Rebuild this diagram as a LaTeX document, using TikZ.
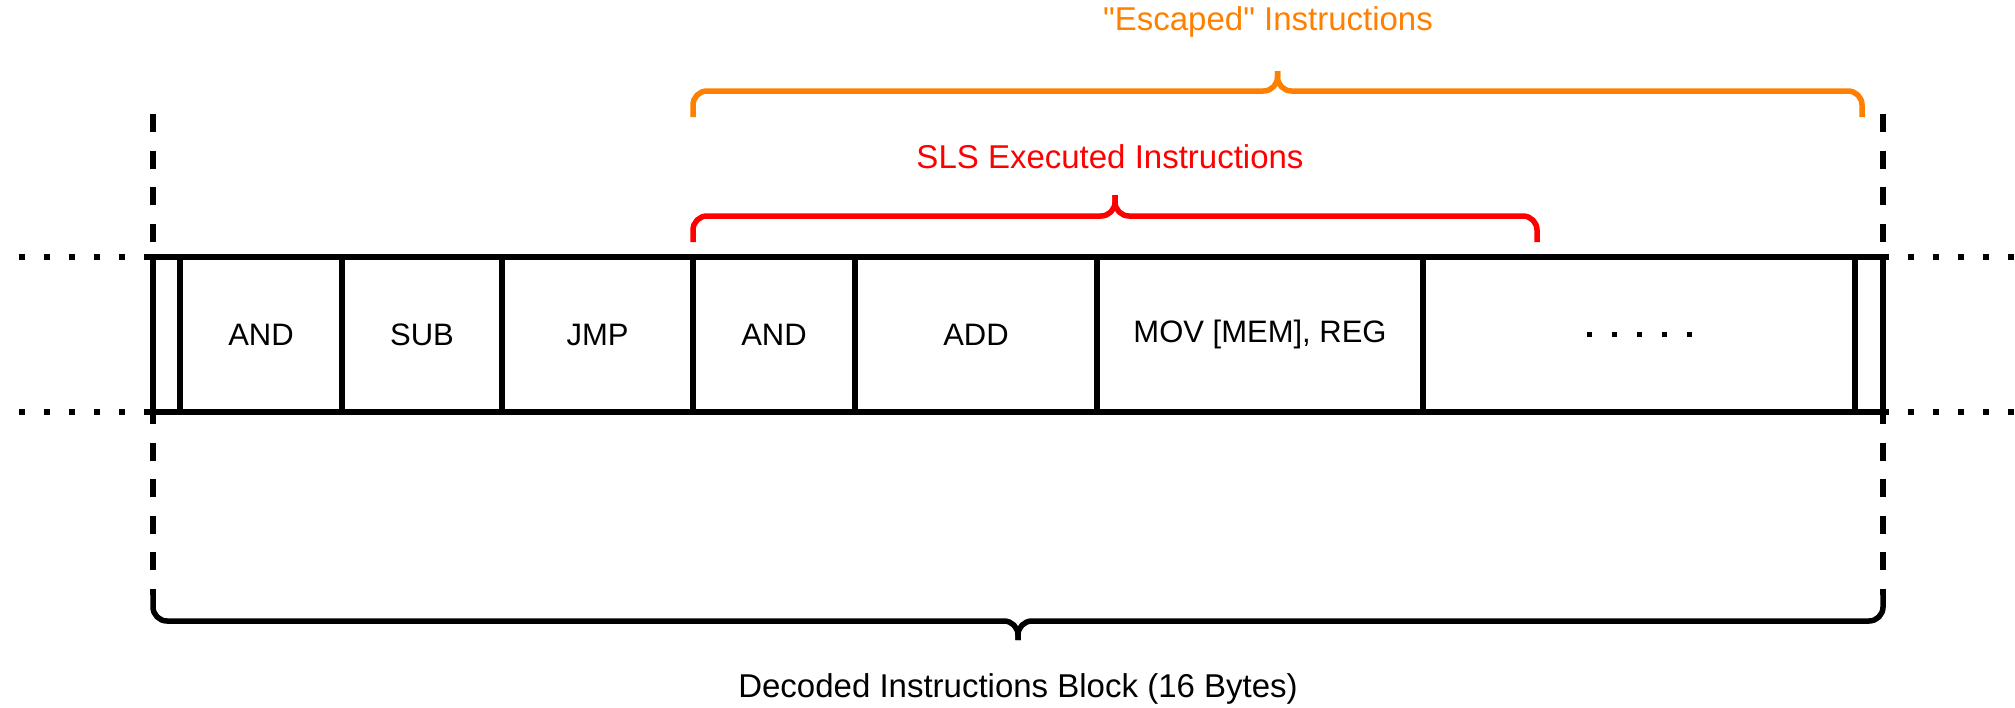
\documentclass[tikz,border=0pt]{standalone}
\usepackage{fontspec}
\setmainfont{Liberation Sans}
\definecolor{escorange}{HTML}{FF8000}
\definecolor{slsred}{HTML}{FF0000}
\begin{document}
\begin{tikzpicture}[x=1pt,y=-1pt,
  cell/.style={draw=black, line width=5.5pt, rectangle, inner sep=0pt, outer sep=0pt,
    minimum height=155pt, font=\fontsize{31}{37}\selectfont},
  lbl/.style={inner sep=0pt, font=\fontsize{33}{39}\selectfont},
  brace/.style={line width=5.5pt, rounded corners=14pt},
  dotline/.style={line width=5.5pt, dash pattern=on 5.5pt off 19.5pt},
  guide/.style={line width=5.5pt, dash pattern=on 18pt off 18.5pt}]
\useasboundingbox (0,0) rectangle (2015,707);

% dashed guides bounding the 16-byte block
\draw[guide] (153,114) -- (153,595);
\draw[guide] (1883,114) -- (1883,595);

% instruction cells
\node[cell, minimum width=27pt]  (c0) at (166.5,334.5) {};
\node[cell, minimum width=162pt] (c1) at (261,334.5) {AND};
\node[cell, minimum width=160pt] (c2) at (422,334.5) {SUB};
\node[cell, minimum width=191pt] (c3) at (597.5,334.5) {JMP};
\node[cell, minimum width=162pt] (c4) at (774,334.5) {AND};
\node[cell, minimum width=242pt] (c5) at (976,334.5) {ADD};
\node[cell, minimum width=326pt] (c6) at (1260,334.5) {MOV [MEM], REG};
\node[cell, minimum width=432pt] (c7) at (1639,334.5) {};
\node[cell, minimum width=28pt]  (c8) at (1869,334.5) {};

% continuation dots
\draw[dotline] (c7.center) ++(-52.5,0) -- ++(105,0);
\draw[dotline] (19,257) -- (c0.north west);
\draw[dotline] (19,412) -- (c0.south west);
\draw[dotline] (c8.north east) -- (2015,257);
\draw[dotline] (c8.south east) -- (2015,412);

% "Escaped" instructions brace
\draw[brace, escorange] (693,117) -- (693,91) -- (1277.5,91) -- (1277.5,71);
\draw[brace, escorange] (1862,117) -- (1862,91) -- (1277.5,91) -- (1277.5,71);
\node[lbl, text=escorange] (esc) at (1268,22) {\textquotedbl Escaped\textquotedbl{} Instructions};

% SLS executed instructions brace
\draw[brace, slsred] (693,242) -- (693,216) -- (1115,216) -- (1115,195);
\draw[brace, slsred] (1537,242) -- (1537,216) -- (1115,216) -- (1115,195);
\node[lbl, text=slsred] (sls) at (1110,157) {SLS Executed Instructions};

% decoded block brace
\draw[brace] (153,595) -- (153,621) -- (1018,621) -- (1018,640);
\draw[brace] (1883,595) -- (1883,621) -- (1018,621) -- (1018,640);
\node[lbl] (blk) at (1018,689) {Decoded Instructions Block (16 Bytes)};
\end{tikzpicture}
\end{document}
